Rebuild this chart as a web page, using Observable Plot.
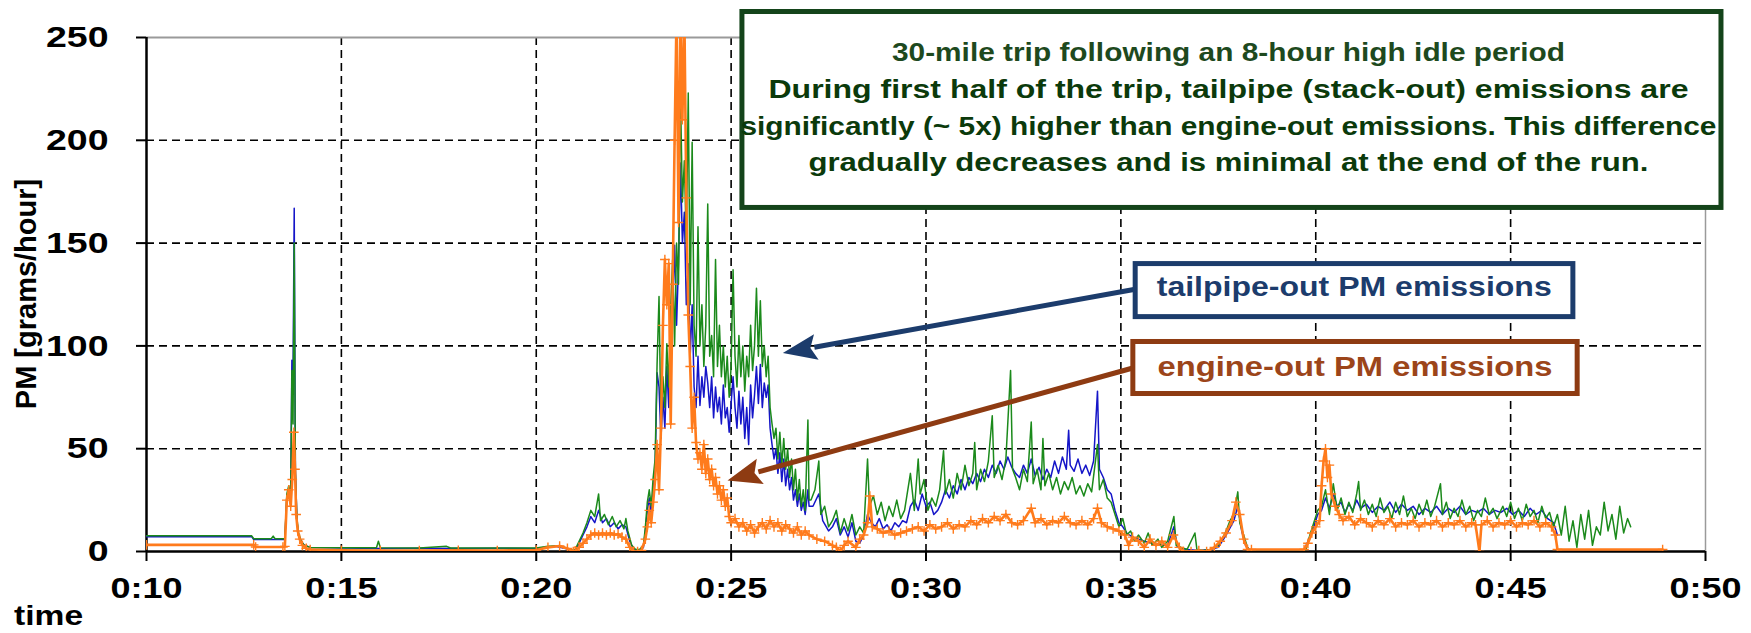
<!DOCTYPE html>
<html>
<head>
<meta charset="utf-8">
<script src="https://cdn.jsdelivr.net/npm/d3@7"></script>
<script src="https://cdn.jsdelivr.net/npm/@observablehq/plot@0.6"></script>
<style>
  html, body { margin: 0; padding: 0; background: #ffffff; }
  #chart svg { display: block; }
</style>
</head>
<body>
<div id="chart"></div>
<script>
// ---------- axis ticks ----------
const xTicks = [10, 15, 20, 25, 30, 35, 40, 45, 50];            // minutes
const xTickLabels = ["0:10", "0:15", "0:20", "0:25", "0:30", "0:35", "0:40", "0:45", "0:50"];
const yTicks = [0, 50, 100, 150, 200, 250];
const gridXValues = [15, 20, 25, 30, 35, 40, 45];
const gridYValues = [50, 100, 150, 200];

// ---------- series: [time in minutes, PM g/h] ----------
const tailpipeBlue = [
[10.0,7.2],[12.7,7.2],[12.75,5.8],[13.5,5.8],
[13.55,5.8],[13.6,26],[13.65,30],[13.7,25],[13.73,93],[13.76,85],[13.79,167],[13.82,40],[13.86,15],[13.9,8],[13.97,5],[14.05,3],[14.2,2],
[16.0,1.5],[17.0,1.6],[18.0,1.5],[19.0,1.6],[20.0,1.5],[20.3,2.2],[20.5,2.5],[20.8,1.2],[20.95,0.3],
[21.0,0.5],[21.1,4],[21.2,8],[21.3,12],[21.4,17],[21.5,14],[21.6,20],[21.7,14],[21.8,16],[21.9,12],[22.0,14],[22.1,11],[22.2,13],[22.3,12],[22.4,5],[22.5,1],[22.65,0.5],[22.75,2],[22.8,10],[22.85,20],[22.9,26],[22.95,18],[23.0,30],[23.05,40],[23.1,87],[23.15,80],[23.2,55],[23.25,75],[23.3,60],[23.35,90],[23.4,70],[23.45,105],[23.5,120],[23.55,149],[23.6,110],[23.65,140],[23.7,189],[23.75,150],[23.8,165],[23.85,120],[23.9,140],[23.95,95],[24.0,120],[24.05,80],[24.1,70],[24.15,95],[24.2,71],[24.25,85],[24.3,75],[24.35,90],[24.4,82],[24.45,70],[24.5,85],[24.55,65],[24.6,80],[24.65,68],[24.7,75],[24.75,62],[24.8,81],[24.85,65],[24.9,70],[24.95,58],[25.0,72],[25.05,85],[25.1,70],[25.15,60],[25.2,78],[25.25,62],[25.3,75],[25.35,55],[25.4,70],[25.45,52],[25.5,81],[25.55,65],[25.6,76],[25.65,90],[25.7,72],[25.75,91],[25.8,70],[25.85,82],[25.9,75],[25.95,81],[26.0,60],[26.05,52],[26.1,45],[26.15,50],[26.2,38],[26.25,48],[26.3,34],[26.35,45],[26.4,32],[26.45,40],[26.5,30],[26.55,36],[26.6,25],[26.65,30],[26.7,22],[26.75,28],[26.8,20],[26.85,24],[26.9,18],[26.97,30],[27.0,22],
[27.1,22],[27.25,28],[27.35,15],[27.5,10],[27.6,12],[27.7,16],[27.8,8],[27.9,12],[28.0,7],[28.1,14],[28.2,5],[28.3,4],[28.4,8],
[28.5,18],[28.6,14],[28.7,12],[28.8,16],[28.9,11],[29.0,13],[29.1,10],[29.2,14],[29.3,12],[29.4,15],[29.5,14],
[29.6,22],[29.7,25],[29.8,20],[29.9,28],[30.0,22],[30.1,24],[30.2,18],[30.3,20],
[30.4,24],[30.5,30],[30.6,26],[30.7,32],[30.8,28],[30.9,35],[31.0,30],[31.1,36],[31.2,33],[31.3,38],[31.4,34],[31.5,40],[31.6,36],[31.7,42],[31.8,38],[31.9,44],[32.0,40],[32.1,46],[32.2,41],[32.3,38],
[32.4,36],[32.5,42],[32.6,38],[32.7,45],[32.8,37],[32.9,41],[33.0,35],[33.1,40],[33.2,36],[33.3,44],[33.4,38],[33.5,46],[33.6,40],[33.66,59],[33.7,42],[33.8,39],[33.9,45],[34.0,38],[34.1,42],[34.2,37],[34.3,44],[34.4,78],[34.45,40],[34.55,36],[34.65,30],[34.75,28],[34.85,20],
[34.95,14],[35.05,12],[35.15,9],[35.3,7],[35.45,6],[35.6,5],[35.8,4],[36.0,3],[36.2,3],[36.36,12],[36.45,2],[36.7,1],[37.0,0.5],[37.3,1],[37.5,2],[37.7,8],[37.9,15],[38.0,22],[38.1,10],[38.2,3],[38.3,0.8],
[39.7,0.8],[39.85,7],[39.95,12],[40.05,18],
[40.15,20],[40.25,26],[40.35,21],[40.45,28],[40.55,22],[40.65,24],[40.75,19],[40.85,23],[40.95,20],[41.05,25],[41.15,21],[41.3,23],[41.45,19],[41.6,22],[41.75,20],[41.9,24],[42.05,19],[42.2,23],[42.35,20],[42.5,22],[42.65,18],[42.8,21],[42.95,19],[43.1,22],[43.25,18],[43.4,21],[43.55,19],[43.7,22],[43.85,18],[44.0,20],[44.15,19],[44.3,21],[44.45,18],[44.6,20],
[44.75,19],[44.9,21],[45.05,18],[45.2,20],[45.35,17],[45.5,21],[45.65,18],[45.8,20],[45.95,16],[46.1,14],[46.2,8]
];

const tailpipeGreen = [
[10.0,7.6],[12.7,7.6],[12.75,6.2],[13.2,6.2],[13.25,7.5],[13.3,6.2],[13.5,6.2],
[13.55,6.2],[13.6,28],[13.65,32],[13.7,27],[13.73,88],[13.76,62],[13.79,150],[13.82,38],[13.86,16],[13.9,9],[13.97,5],[14.05,3],[14.2,2],
[15.0,1.8],[15.9,1.8],[15.95,5],[16.0,1.8],[17.0,1.7],[17.7,2.5],[17.8,1.7],[19.0,1.7],[20.0,1.7],[20.3,2.5],[20.6,2.8],[20.8,1.5],[20.95,0.5],
[21.0,1],[21.1,5],[21.2,9],[21.3,14],[21.4,20],[21.5,17],[21.6,28],[21.65,15],[21.75,18],[21.85,13],[21.95,17],[22.05,12],[22.15,15],[22.25,11],[22.3,16],[22.35,10],[22.45,3],[22.55,1],[22.65,1],[22.75,3],[22.8,12],[22.85,24],[22.9,30],[22.95,22],[23.0,36],[23.05,45],[23.1,91],[23.15,124],[23.2,60],[23.25,85],[23.3,70],[23.35,101],[23.4,80],[23.45,120],[23.5,142],[23.55,100],[23.6,150],[23.65,130],[23.7,223],[23.75,170],[23.8,190],[23.85,150],[23.9,223],[23.95,120],[24.0,199],[24.05,110],[24.1,95],[24.15,158],[24.2,100],[24.25,120],[24.3,90],[24.35,110],[24.4,169],[24.45,95],[24.5,105],[24.55,85],[24.6,142],[24.65,90],[24.7,110],[24.75,85],[24.8,100],[24.85,80],[24.9,95],[24.95,75],[25.0,90],[25.05,137],[25.1,95],[25.15,80],[25.2,105],[25.25,85],[25.3,100],[25.35,78],[25.4,95],[25.45,85],[25.5,110],[25.55,88],[25.6,100],[25.65,128],[25.7,95],[25.75,122],[25.8,90],[25.85,100],[25.9,85],[25.95,95],[26.0,70],[26.05,62],[26.1,55],[26.15,60],[26.2,45],[26.25,58],[26.3,42],[26.35,55],[26.4,40],[26.45,50],[26.5,36],[26.55,45],[26.6,30],[26.65,40],[26.7,25],[26.75,35],[26.8,22],[26.85,30],[26.9,20],[26.97,64],[27.0,25],
[27.05,25],[27.15,30],[27.25,44],[27.3,18],[27.4,22],[27.5,12],[27.6,15],[27.7,20],[27.8,9],[27.9,16],[28.0,10],[28.1,18],[28.2,8],[28.3,12],[28.4,9],
[28.5,45],[28.55,22],[28.65,27],[28.75,18],[28.85,24],[28.95,15],[29.05,22],[29.15,17],[29.25,25],[29.35,16],[29.45,20],
[29.6,38],[29.7,20],[29.8,45],[29.85,28],[29.95,35],[30.05,20],[30.15,26],[30.25,22],
[30.35,30],[30.45,49],[30.5,28],[30.6,35],[30.7,26],[30.8,38],[30.9,30],[31.0,42],[31.1,32],[31.2,38],[31.25,53],[31.3,30],[31.4,40],[31.5,34],[31.6,44],[31.7,66],[31.75,36],[31.85,42],[31.95,35],[32.05,45],[32.17,88],[32.22,40],[32.3,36],
[32.4,30],[32.5,40],[32.6,34],[32.7,63],[32.75,33],[32.85,40],[32.95,30],[33.0,55],[33.05,32],[33.15,38],[33.25,30],[33.35,36],[33.45,28],[33.55,34],[33.65,30],[33.75,36],[33.85,28],[33.95,32],[34.05,27],[34.15,33],[34.25,29],[34.4,52],[34.45,30],[34.55,35],[34.65,26],[34.75,24],[34.85,18],
[34.95,12],[35.05,16],[35.15,8],[35.25,10],[35.35,5],[35.45,8],[35.6,4],[35.7,9],[35.8,3],[35.95,6],[36.05,2],[36.2,5],[36.36,17],[36.42,3],[36.55,2],[36.7,1],[36.9,9],[36.95,1],[37.1,0.5],[37.3,1],[37.5,3],[37.6,6],[37.7,10],[37.8,15],[37.9,18],[38.0,29],[38.05,14],[38.15,8],[38.25,2],[38.3,0.8],
[39.7,0.8],[39.75,1],[39.85,8],[39.95,14],[40.05,20],
[40.15,22],[40.25,30],[40.35,18],[40.45,33],[40.55,20],[40.65,26],[40.75,18],[40.85,24],[40.95,19],[41.05,28],[41.1,34],[41.15,20],[41.25,25],[41.35,18],[41.45,23],[41.55,17],[41.65,26],[41.75,19],[41.85,22],[41.95,16],[42.05,24],[42.15,18],[42.25,27],[42.35,17],[42.45,21],[42.55,16],[42.65,23],[42.75,18],[42.85,25],[42.95,17],[43.05,22],[43.2,33],[43.25,18],[43.35,24],[43.45,16],[43.55,21],[43.65,17],[43.75,25],[43.85,18],[43.95,22],[44.05,15],[44.15,20],[44.25,17],[44.35,26],[44.45,18],[44.55,21],[44.65,16],
[44.8,22],[44.9,17],[45.0,24],[45.1,16],[45.2,21],[45.3,15],[45.4,23],[45.5,17],[45.6,20],[45.7,14],[45.8,22],[45.9,16],[46.0,19],[46.1,12],[46.2,18],[46.3,8],[46.4,22],[46.5,5],[46.6,15],[46.7,2],[46.8,18],[46.9,6],[47.0,20],[47.1,3],[47.2,12],[47.3,8],[47.4,24],[47.5,10],[47.6,18],[47.7,6],[47.8,22],[47.9,9],[48.0,16],[48.08,12]
];

const engineOut = [
[10.0,3.2],[12.75,3.2],[12.8,2.2],[13.5,2.2],
[13.55,2.5],[13.6,25],[13.65,30],[13.7,22],[13.74,35],[13.78,58],[13.81,40],[13.84,18],[13.88,10],[13.93,6],[14.0,3],[14.1,1.5],[14.2,1],
[15.0,0.6],[16.0,0.5],[17.0,0.5],[18.0,0.6],[19.0,0.5],[20.0,0.7],[20.3,2],[20.6,2.7],[20.8,1.5],[20.95,0],
[21.0,0.3],[21.1,2],[21.2,4],[21.3,6],[21.4,8],[21.5,9],[21.6,8],[21.7,9],[21.8,8],[21.9,9],[22.0,8],[22.1,8.5],[22.2,7],[22.3,6],[22.4,2],[22.5,0],[22.6,0],[22.7,0.5],[22.8,6],[22.85,12],[22.9,20],[22.95,14],[23.0,24],[23.05,35],[23.1,52],[23.15,30],[23.2,60],[23.25,110],[23.3,142],[23.35,120],[23.4,140],[23.45,62],[23.5,130],[23.55,200],[23.6,262],[23.65,160],[23.7,262],[23.75,210],[23.8,262],[23.85,172],[23.9,115],[23.95,90],[24.0,60],[24.05,75],[24.1,53],[24.15,45],[24.2,48],[24.25,40],[24.3,52],[24.35,38],[24.4,45],[24.45,35],[24.5,40],[24.55,32],[24.6,36],[24.65,28],[24.7,32],[24.75,25],[24.8,30],[24.85,22],[24.9,26],[24.95,17],[25.0,14],[25.1,16],[25.2,12],[25.3,14],[25.4,10],[25.5,13],[25.6,9],[25.7,12],[25.8,14],[25.9,11],[26.0,15],[26.1,12],[26.2,14],[26.3,10],[26.4,13],[26.5,11],[26.6,9],[26.7,12],[26.8,8],[26.9,10],[27.0,8],
[27.2,6],[27.4,5],[27.6,3],[27.7,2],[27.8,0],[27.9,3],[28.0,5],[28.2,2],[28.3,6],[28.4,8],
[28.5,14],[28.56,27],[28.62,12],[28.75,11],[28.9,9],[29.05,10],[29.2,8],[29.35,9],[29.5,10],
[29.65,11],[29.8,12],[29.95,10],[30.1,13],[30.25,11],
[30.4,12],[30.55,14],[30.7,11],[30.85,13],[31.0,12],[31.15,15],[31.3,13],[31.45,16],[31.6,14],[31.75,17],[31.9,15],[32.05,18],[32.2,14],
[32.35,13],[32.5,15],[32.7,21],[32.8,14],[32.95,16],[33.1,13],[33.25,15],[33.4,14],[33.55,17],[33.7,14],[33.85,13],[34.0,15],[34.15,13],[34.3,16],[34.4,21],[34.5,14],[34.65,12],[34.8,11],
[34.95,10],[35.1,8],[35.2,3],[35.3,7],[35.45,5],[35.6,2],[35.75,6],[35.9,3],[36.05,5],[36.2,2],[36.35,8],[36.5,2],[36.6,0],[36.8,0],[37.0,0.5],[37.2,0],[37.4,2],[37.55,5],[37.7,9],[37.85,15],[37.95,24],[38.05,18],[38.15,6],[38.25,1],[38.35,1],
[39.7,1],[39.8,4],[39.9,9],[40.0,12],[40.1,15],
[40.15,32],[40.2,44],[40.25,50],[40.3,36],[40.35,42],[40.4,28],[40.5,22],[40.6,18],[40.7,15],[40.85,17],[41.0,13],[41.15,16],[41.3,14],[41.45,12],[41.6,15],[41.75,13],[41.9,16],[42.05,12],[42.2,14],[42.35,13],[42.5,15],[42.65,12],[42.8,14],[42.95,13],[43.1,15],[43.25,12],[43.4,14],[43.55,13],[43.7,15],[43.85,12],[44.0,14],[44.1,13],[44.2,0],[44.25,13],[44.4,15],[44.55,12],[44.7,14],
[44.85,13],[45.0,15],[45.15,12],[45.3,14],[45.45,13],[45.6,15],[45.75,12],[45.9,14],[46.05,12],[46.15,8],[46.2,1],[48.9,1]
];

// ---------- annotation texts ----------
const noteLines = [
  "30-mile trip following an 8-hour high idle period",
  "During first half of the trip, tailpipe (stack-out) emissions are",
  "significantly (~ 5x) higher than engine-out emissions. This difference",
  "gradually decreases and is minimal at the end of the run."
];
const tailpipeLabel = "tailpipe-out PM emissions";
const engineLabel = "engine-out PM emissions";
const yAxisTitle = "PM [grams/hour]";
const xAxisTitle = "time";

// ---------- styling / layout (not data) ----------
const colors = { blue: "#1515c8", green: "#1b8a1b", orange: "#ff7b1c",
  noteText: "#0b3a0b", noteBorder: "#14441a", navy: "#1c3c6c", brown: "#8e3b12", brownText: "#9c451a" };
// annotation geometry in data units (minutes, g/h)
const noteBox = { x1: 25.29, x2: 50.41, y1: 262.4, y2: 167.1 };
const noteBaselines = [238.1, 220.1, 202.1, 184.6];
const noteWidths = [673, 920, 976, 840];
const blueBox = { x1: 35.38, x2: 46.61, y1: 139.8, y2: 114.0, tx: 41.0, ty: 124.0, w: 395 };
const brownBox = { x1: 35.32, x2: 46.72, y1: 101.9, y2: 76.6, tx: 41.02, ty: 85.2, w: 395 };
const blueArrow = { from: [35.38, 127.3], to: [26.34, 96.3] };
const brownArrow = { from: [35.32, 89.0], to: [24.92, 34.3] };

const rows = (arr, s) => arr.map(([t, v]) => ({ t, v, s }));
const blueRows = rows(tailpipeBlue, "tailpipe-out");
const greenRows = rows(tailpipeGreen, "tailpipe-out (2)");
const orangeRows = rows(engineOut, "engine-out");

const dash = "8,5";
const chart = Plot.plot({
  width: 1751,
  height: 633,
  marginLeft: 146,
  marginRight: 46,
  marginTop: 37,
  marginBottom: 82,
  style: { fontFamily: "'Liberation Sans', Arial, sans-serif", fontSize: "30px", fontWeight: "bold", background: "#ffffff", color: "#000", overflow: "visible" },
  x: { domain: [10, 50] },
  y: { domain: [0, 250] },
  marks: [
    Plot.ruleY(gridYValues, { stroke: "#000", strokeWidth: 1.6, strokeDasharray: dash }),
    Plot.ruleX(gridXValues, { stroke: "#000", strokeWidth: 1.6, strokeDasharray: dash }),
    Plot.ruleY([250], { stroke: "#9a9a9a", strokeWidth: 2 }),
    Plot.ruleX([50], { stroke: "#9a9a9a", strokeWidth: 1.5 }),
    Plot.ruleX([10], { stroke: "#000", strokeWidth: 2.5 }),
    Plot.ruleY([0], { stroke: "#000", strokeWidth: 2.5 }),
    Plot.line(blueRows, { x: "t", y: "v", stroke: colors.blue, strokeWidth: 1.5, clip: true }),
    Plot.line(greenRows, { x: "t", y: "v", stroke: colors.green, strokeWidth: 1.5, clip: true }),
    Plot.line(orangeRows, { x: "t", y: "v", stroke: colors.orange, strokeWidth: 2.6, clip: true }),
    Plot.dot(orangeRows, { x: "t", y: "v", symbol: "plus", r: 3.2, stroke: colors.orange, strokeWidth: 1.4, clip: true }),
    Plot.axisY({ ticks: yTicks, tickSize: 10, tickPadding: 28, label: null, stroke: "#000", strokeWidth: 2, fontSize: 30 }),
    Plot.axisX({ ticks: xTicks, tickFormat: d => xTickLabels[xTicks.indexOf(d)], tickSize: 10, tickPadding: 15, label: null, stroke: "#000", strokeWidth: 2, fontSize: 30 })
  ]
});
document.getElementById("chart").append(chart);

// stretch horizontal texts (the original is rendered wide)
function stretch(el, target) {
  el.setAttribute("textLength", target);
  el.setAttribute("lengthAdjust", "spacingAndGlyphs");
}
chart.querySelectorAll('[aria-label="y-axis tick label"] text').forEach(t => stretch(t, t.getComputedTextLength() * 1.25));
chart.querySelectorAll('[aria-label="x-axis tick label"] text').forEach(t => stretch(t, t.getComputedTextLength() * 1.2));

// ---------- annotation layer (positioned through the plot's scales) ----------
const sx = chart.scale("x").apply, sy = chart.scale("y").apply;
const svg = d3.select(chart);
const ann = svg.append("g").attr("font-family", "'Liberation Sans', Arial, sans-serif");

function arrow(a, color) {
  const [x0, y0] = [sx(a.from[0]), sy(a.from[1])];
  const [x1, y1] = [sx(a.to[0]), sy(a.to[1])];
  const dx = x1 - x0, dy = y1 - y0, L = Math.hypot(dx, dy);
  const ux = dx / L, uy = dy / L, head = 34, half = 13;
  const bx = x1 - ux * head, by = y1 - uy * head;
  ann.append("line").attr("x1", x0).attr("y1", y0).attr("x2", bx + ux * 2).attr("y2", by + uy * 2)
    .attr("stroke", color).attr("stroke-width", 5);
  ann.append("path")
    .attr("d", `M${x1},${y1}L${bx - uy * half},${by + ux * half}L${bx + ux * 6},${by + uy * 6}L${bx + uy * half},${by - ux * half}Z`)
    .attr("fill", color);
}
function box(b, color) {
  ann.append("rect")
    .attr("x", sx(b.x1)).attr("y", sy(b.y1))
    .attr("width", sx(b.x2) - sx(b.x1)).attr("height", sy(b.y2) - sy(b.y1))
    .attr("fill", "#fff").attr("stroke", color).attr("stroke-width", 5);
}

// big note
box(noteBox, colors.noteBorder);
const ncx = (sx(noteBox.x1) + sx(noteBox.x2)) / 2 - 3;
noteLines.forEach((line, i) => {
  const t = ann.append("text")
    .attr("x", ncx).attr("y", sy(noteBaselines[i]))
    .attr("text-anchor", "middle")
    .attr("font-size", 25)
    .attr("font-weight", "bold")
    .attr("fill", colors.noteText)
    .attr("opacity", i === 0 ? 0.92 : 1)
    .text(line);
  stretch(t.node(), noteWidths[i]);
});

// arrows and label boxes
arrow(blueArrow, colors.navy);
arrow(brownArrow, colors.brown);
box(blueBox, colors.navy);
box(brownBox, colors.brown);
[[blueBox, tailpipeLabel, colors.navy], [brownBox, engineLabel, colors.brownText]].forEach(([b, label, c]) => {
  const t = ann.append("text")
    .attr("x", sx(b.tx)).attr("y", sy(b.ty))
    .attr("text-anchor", "middle").attr("font-size", 27).attr("font-weight", "bold")
    .attr("fill", c).text(label);
  stretch(t.node(), b.w);
});

// axis titles
ann.append("text")
  .attr("transform", `translate(${sx(10) - 110},${sy(125)}) rotate(-90)`)
  .attr("text-anchor", "middle").attr("font-size", 29).attr("font-weight", "bold")
  .attr("fill", "#000").text(yAxisTitle);
const tt = ann.append("text")
  .attr("x", 14).attr("y", 625).attr("text-anchor", "start")
  .attr("font-size", 28).attr("font-weight", "bold").attr("fill", "#000").text(xAxisTitle);
stretch(tt.node(), tt.node().getComputedTextLength() * 1.2);
</script>
</body>
</html>
